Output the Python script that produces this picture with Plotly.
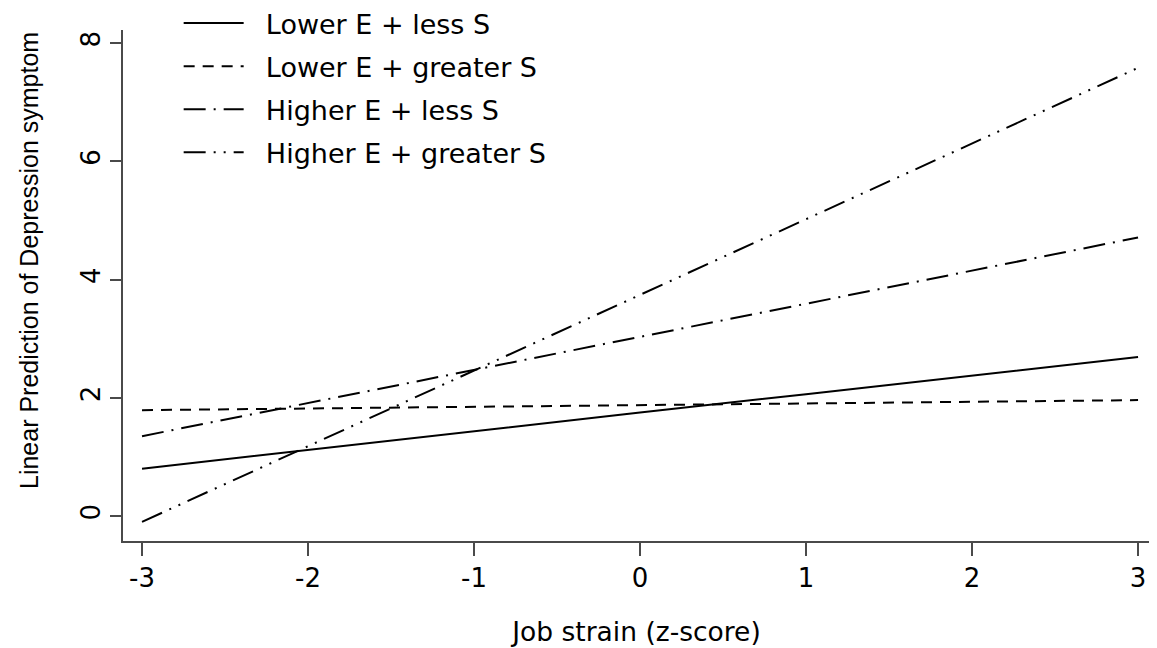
import plotly.graph_objects as go

x_vals = [-3, -2, -1, 0, 1, 2, 3]
lower_e_less_s = [0.80, 1.12, 1.43, 1.75, 2.06, 2.38, 2.69]
lower_e_greater_s = [1.79, 1.82, 1.85, 1.88, 1.90, 1.93, 1.96]
higher_e_less_s = [1.35, 1.91, 2.47, 3.03, 3.59, 4.15, 4.71]
higher_e_greater_s = [-0.10, 1.18, 2.46, 3.74, 5.02, 6.30, 7.58]

series_names = ["Lower E + less S", "Lower E + greater S",
                "Higher E + less S", "Higher E + greater S"]
series_values = [lower_e_less_s, lower_e_greater_s, higher_e_less_s, higher_e_greater_s]
dashes = ["solid", "11px,8px", "22px,8px,2px,8px", "22px,8px,2px,8px,2px,8px"]

x_ticks = [-3, -2, -1, 0, 1, 2, 3]
y_ticks = [0, 2, 4, 6, 8]
x_title = "Job strain (z-score)"
y_title = "Linear Prediction of Depression symptom"

FONT_H = "DejaVu Sans, Arial, sans-serif"
FONT_V = "Liberation Sans, Arial, sans-serif"
AXC = "#4a4a4a"
PAD = "\u00a0\u00a0"

fig = go.Figure()
for i, (name, vals, dash) in enumerate(zip(series_names, series_values, dashes)):
    fig.add_trace(go.Scatter(
        x=x_vals, y=vals, mode="lines", name=PAD + name,
        legendgroup=f"g{i}",
        line=dict(color="black", width=2, dash=dash),
    ))

# page body has an 8px margin; figure is sized to fill the remaining window
fig.update_layout(
    width=1149, height=640,
    margin=dict(l=115, r=7, t=22, b=107, autoexpand=False),
    paper_bgcolor="white", plot_bgcolor="white",
    font=dict(family=FONT_H, size=26, color="black"),
    showlegend=True,
    legend=dict(
        x=0.0542, y=1.0607, xanchor="left", yanchor="top",
        bgcolor="rgba(0,0,0,0)",
        font=dict(family=FONT_H, size=27, color="black"),
        traceorder="grouped", tracegroupgap=5,
        itemwidth=60,
    ),
    xaxis=dict(
        range=[-3.1146, 3.072], automargin=False,
        tickmode="array", tickvals=x_ticks, ticktext=[str(v) for v in x_ticks],
        showgrid=False, zeroline=False,
        showline=True, linecolor=AXC, linewidth=2,
        ticks="outside", ticklen=13, tickwidth=2, tickcolor=AXC,
        tickfont=dict(family=FONT_H, size=26, color="black"),
        title=dict(text=x_title, standoff=30,
                   font=dict(family=FONT_H, size=26.5, color="black")),
    ),
    yaxis=dict(
        range=[-0.423, 8.22], automargin=False,
        tickmode="array", tickvals=y_ticks, ticktext=[str(v) for v in y_ticks],
        tickangle=-90,
        showgrid=False, zeroline=False,
        showline=True, linecolor=AXC, linewidth=2,
        ticks="outside", ticklen=11, tickwidth=2, tickcolor=AXC,
        tickfont=dict(family=FONT_H, size=26, color="black"),
    ),
    annotations=[dict(
        text=y_title, textangle=-90,
        xref="paper", yref="paper", x=-0.0915, y=0.548,
        xanchor="center", yanchor="middle", showarrow=False,
        font=dict(family=FONT_V, size=25, color="black"),
    )],
)

fig.write_html("out.html")
